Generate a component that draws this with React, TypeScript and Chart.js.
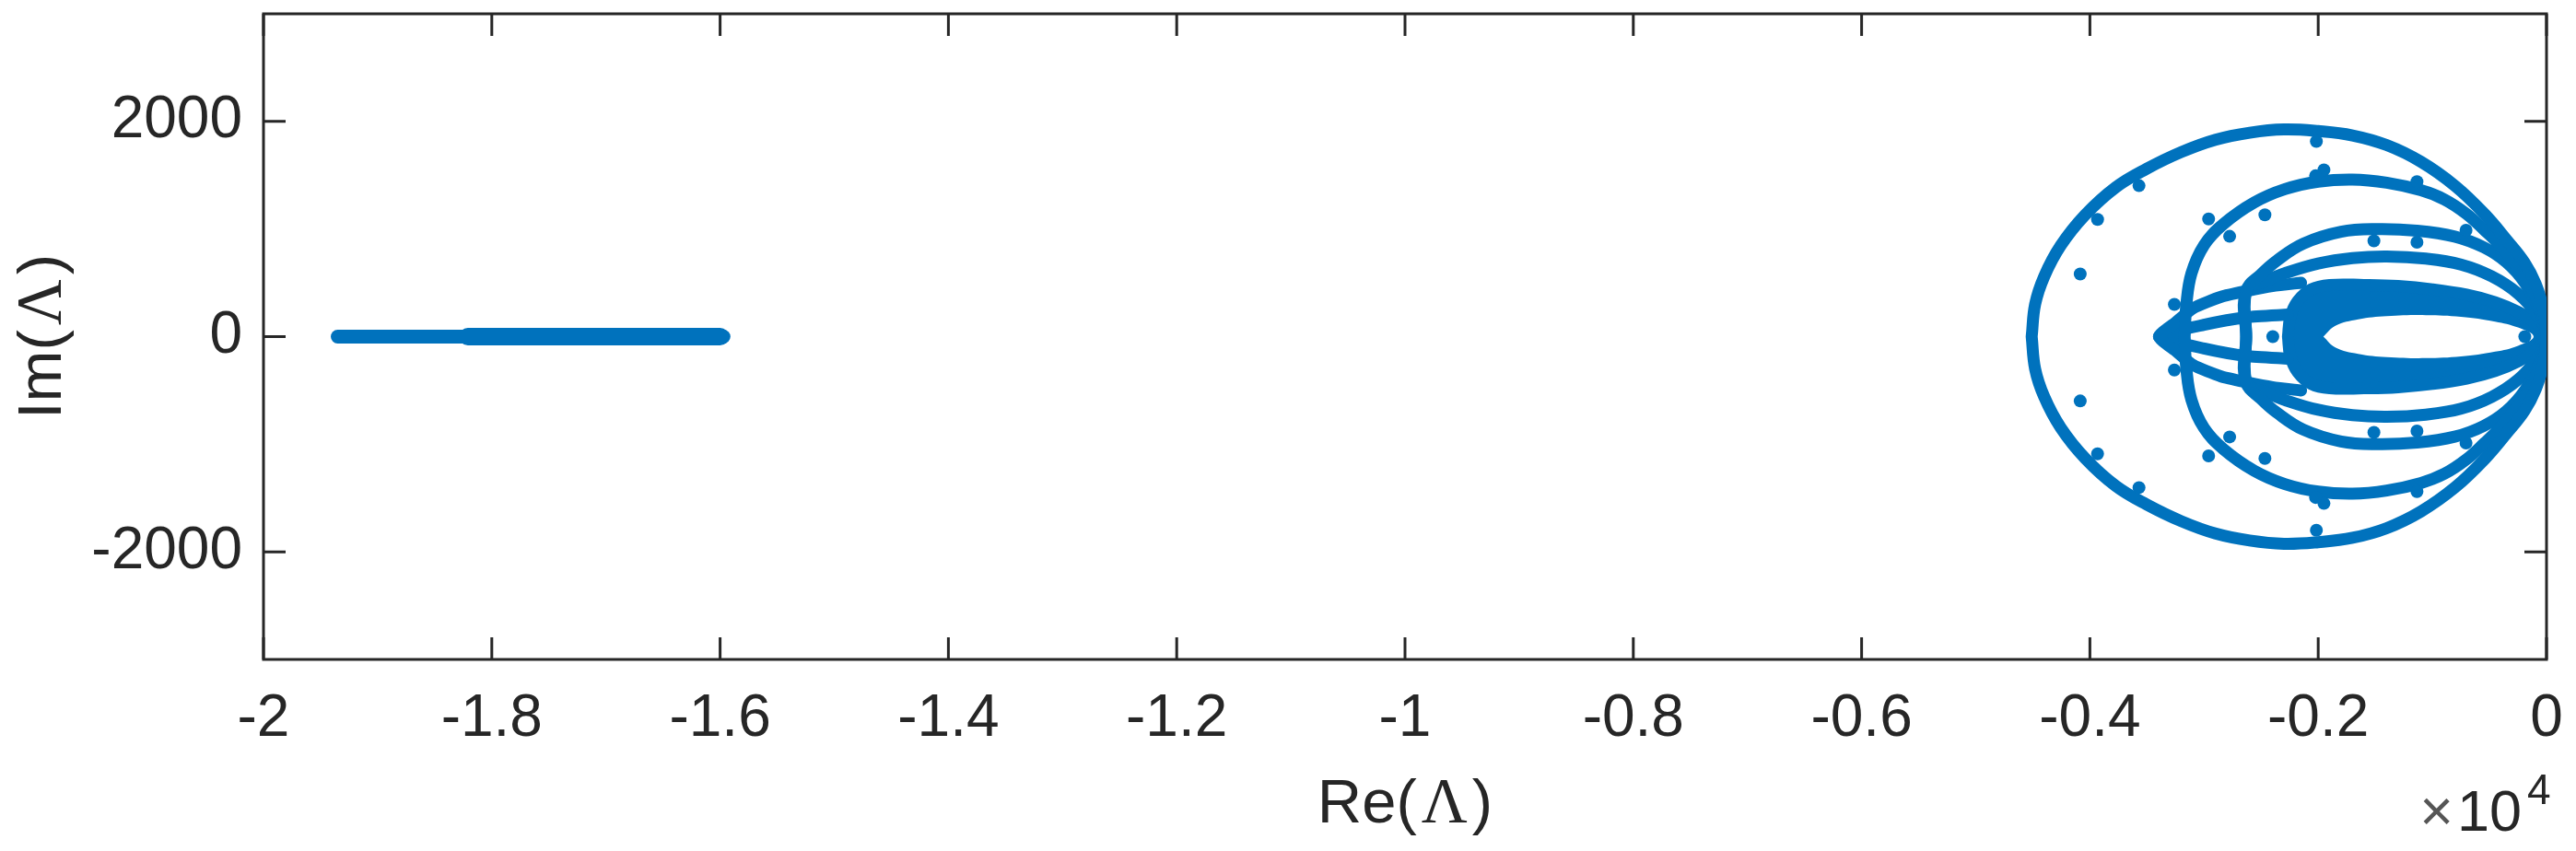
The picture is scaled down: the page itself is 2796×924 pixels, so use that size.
import React, { useEffect, useRef } from 'react';
import { Chart, registerables } from 'chart.js';

Chart.register(...registerables);

const BLUE = '#0072BD';
const AXIS = '#262626';
const SANS = '"Liberation Sans", Arial, Helvetica, sans-serif';
const SERIF = '"Liberation Serif", "DejaVu Serif", serif';

const xTickValues = [-20000, -18000, -16000, -14000, -12000, -10000, -8000, -6000, -4000, -2000, 0];
const xTickLabels = ['-2', '-1.8', '-1.6', '-1.4', '-1.2', '-1', '-0.8', '-0.6', '-0.4', '-0.2', '0'];
const yTickValues = [-2000, 0, 2000];
const yTickLabels = ['-2000', '0', '2000'];

// Real-axis cluster on the left
const realAxisLine = [[-19350, 0], [-15970, 0]];
const realAxisDense = [[-18210, 0], [-16000, 0]];

// Outer egg-shaped branch (left point -> upper -> origin -> lower -> left point)
const outerRing = [
  [-4510, 0], [-4480, 300], [-4400, 560], [-4256, 846], [-4041, 1132], [-3772, 1389], [-3503, 1560],
  [-3200, 1715], [-2900, 1830], [-2600, 1895], [-2300, 1925], [-2000, 1910], [-1700, 1870],
  [-1400, 1780], [-1100, 1625], [-800, 1400], [-543, 1140], [-350, 900], [-194, 690], [-95, 490],
  [-30, 260], [0, 0], [-30, -260], [-95, -490], [-194, -690], [-350, -900], [-543, -1140],
  [-800, -1400], [-1100, -1625], [-1400, -1780], [-1700, -1870], [-2000, -1910], [-2300, -1925],
  [-2600, -1895], [-2900, -1830], [-3200, -1715], [-3503, -1560], [-3772, -1389], [-4041, -1132],
  [-4256, -846], [-4400, -560], [-4480, -300], [-4510, 0],
];

// Second branch
const ringB = [
  [-3170, 0], [-3155, 300], [-3110, 589], [-3000, 850], [-2830, 1046], [-2561, 1246], [-2292, 1370],
  [-2000, 1440], [-1700, 1460], [-1400, 1430], [-1100, 1360], [-893, 1274], [-700, 1140], [-543, 989],
  [-410, 850], [-301, 706], [-150, 480], [-45, 240], [0, 0], [-45, -240], [-150, -480], [-301, -706],
  [-410, -850], [-543, -989], [-700, -1140], [-893, -1274], [-1100, -1360], [-1400, -1430],
  [-1700, -1460], [-2000, -1440], [-2292, -1370], [-2561, -1246], [-2830, -1046], [-3000, -850],
  [-3110, -589], [-3155, -300], [-3170, 0],
];

// Third branch (flat left side)
const ringC = [
  [-2631, 0], [-2631, 423], [-2500, 580], [-2365, 705], [-2132, 864], [-1800, 975], [-1485, 1000],
  [-1136, 985], [-804, 930], [-550, 830], [-350, 690], [-190, 500], [-70, 260], [0, 0], [-70, -260],
  [-190, -500], [-350, -690], [-550, -830], [-804, -930], [-1136, -985], [-1485, -1000],
  [-1800, -975], [-2132, -864], [-2365, -705], [-2500, -580], [-2631, -423], [-2631, 0],
];

// Fourth branch
const ringD = [
  [-2631, 0], [-2631, 423], [-2450, 520], [-2292, 589], [-2000, 680], [-1700, 730], [-1400, 745],
  [-1057, 725], [-750, 670], [-480, 560], [-250, 400], [-90, 210], [0, 0], [-90, -210], [-250, -400],
  [-480, -560], [-750, -670], [-1057, -725], [-1400, -745], [-1700, -730], [-2000, -680],
  [-2292, -589], [-2450, -520], [-2631, -423], [-2631, 0],
];

// Lines meeting at the left tip
const tipOuter = [
  [-2150, -500], [-2400, -470], [-2631, -423], [-2850, -370], [-3095, -265], [-3250, -130], [-3395, 0],
  [-3250, 130], [-3095, 265], [-2850, 370], [-2631, 423], [-2400, 470], [-2150, 500],
];
const tipInner = [
  [-2265, -205], [-2631, -180], [-3000, -110], [-3395, 0], [-3000, 110], [-2631, 180], [-2265, 205],
];

// Dense core boundary and the empty lens inside it
const coreShape = [
  [-2265, 0], [-2245, 180], [-2180, 330], [-2060, 440], [-1900, 480], [-1600, 480], [-1300, 470],
  [-1000, 440], [-700, 390], [-450, 320], [-250, 230], [-100, 130], [0, 0], [-100, -130], [-250, -230],
  [-450, -320], [-700, -390], [-1000, -440], [-1300, -470], [-1600, -480], [-1900, -480],
  [-2060, -440], [-2180, -330], [-2245, -180], [-2265, 0],
];
const holeShape = [
  [-1955, 0], [-1850, 100], [-1650, 160], [-1400, 190], [-1057, 200], [-750, 185], [-450, 140],
  [-250, 85], [-113, 0], [-250, -85], [-450, -140], [-750, -185], [-1057, -200], [-1400, -190],
  [-1650, -160], [-1850, -100], [-1955, 0],
];

// Isolated eigenvalues and off-curve points
const outlierDots = [
  [-4085, 582], [-4085, -598], [-2960, 1093], [-2960, -1109], [-2016, 1815], [-2016, -1800],
  [-1950, 1550], [-1950, -1550], [-705, 989], [-705, -989], [-2398, 0], [-190, 0], [-3260, 300],
  [-3260, -310], [-3570, 1403], [-3570, -1403], [-3933, 1089], [-3933, -1089], [-2776, 932],
  [-2776, -932], [-2467, 1132], [-2467, -1132], [-2023, 1495], [-2023, -1495], [-1135, 1440],
  [-1135, -1440], [-1512, 890], [-1512, -890], [-1135, 877], [-1135, -877],
];

const toXY = (pts: number[][]) => pts.map(([x, y]) => ({ x, y }));

function curve(pts: number[][], width: number, order: number, extra: any = {}) {
  return {
    data: toXY(pts),
    showLine: true,
    borderColor: BLUE,
    backgroundColor: BLUE,
    borderWidth: width,
    pointRadius: 0,
    pointHoverRadius: 0,
    tension: 0.4,
    borderCapStyle: 'round',
    borderJoinStyle: 'round',
    fill: false,
    order,
    ...extra,
  };
}

const TITLE_SANS = 67;
const TITLE_SERIF = 69;

const framePlugin = {
  id: 'matlabFrame',
  beforeDatasetsDraw(chart: any) {
    const { ctx, chartArea: a, scales } = chart;
    ctx.save();
    ctx.strokeStyle = AXIS;
    ctx.lineWidth = 3;
    ctx.strokeRect(a.left, a.top, a.right - a.left, a.bottom - a.top);
    ctx.beginPath();
    for (const v of xTickValues) {
      const px = scales.x.getPixelForValue(v);
      ctx.moveTo(px, a.bottom);
      ctx.lineTo(px, a.bottom - 24);
      ctx.moveTo(px, a.top);
      ctx.lineTo(px, a.top + 24);
    }
    for (const v of yTickValues) {
      const py = scales.y.getPixelForValue(v);
      ctx.moveTo(a.left, py);
      ctx.lineTo(a.left + 24, py);
      ctx.moveTo(a.right, py);
      ctx.lineTo(a.right - 24, py);
    }
    ctx.stroke();
    ctx.restore();
  },
  afterDraw(chart: any) {
    const { ctx, chartArea: a } = chart;
    ctx.save();
    ctx.fillStyle = AXIS;
    ctx.textBaseline = 'alphabetic';

    const drawLabel = (prefix: string, x: number, y: number) => {
      const sans = `${TITLE_SANS}px ${SANS}`;
      const serif = `${TITLE_SERIF}px ${SERIF}`;
      ctx.font = sans;
      const w1 = ctx.measureText(prefix + '(').width;
      const w3 = ctx.measureText(')').width;
      ctx.font = serif;
      const w2 = ctx.measureText('Λ').width;
      const gap = 5;
      const total = w1 + gap + w2 + gap + w3;
      let cx = x - total / 2;
      ctx.textAlign = 'left';
      ctx.font = sans;
      ctx.fillText(prefix + '(', cx, y);
      cx += w1 + gap;
      ctx.font = serif;
      ctx.fillText('Λ', cx, y);
      cx += w2 + gap;
      ctx.font = sans;
      ctx.fillText(')', cx, y);
    };

    drawLabel('Re', (a.left + a.right) / 2, 893);

    ctx.save();
    ctx.translate(66, (a.top + a.bottom) / 2);
    ctx.rotate(-Math.PI / 2);
    drawLabel('Im', 0, 0);
    ctx.restore();

    ctx.textAlign = 'right';
    ctx.font = `63px ${SANS}`;
    const w10 = ctx.measureText('10').width;
    ctx.fillStyle = '#555555';
    ctx.fillText('×', 2737 - w10 - 4, 902);
    ctx.fillStyle = AXIS;
    ctx.fillText('10', 2737, 902);
    ctx.textAlign = 'left';
    ctx.font = `46px ${SANS}`;
    ctx.fillText('4', 2743, 873);
    ctx.restore();
  },
};

export default function App() {
  const ref = useRef<HTMLCanvasElement>(null);

  useEffect(() => {
    document.body.style.margin = '0';
    const canvas = ref.current;
    if (!canvas) return;

    const datasets: any[] = [
      curve(coreShape, 13, 30, { fill: 'shape' }),
      curve(holeShape, 0, 25, { fill: 'shape', backgroundColor: '#ffffff', borderColor: '#ffffff' }),
      curve(outerRing, 13, 10),
      curve(ringB, 13, 10),
      curve(ringC, 13, 10),
      curve(ringD, 13, 10),
      curve(tipOuter, 13, 10, { tension: 0.2 }),
      curve(tipInner, 13, 10, { tension: 0.2 }),
      curve(realAxisLine, 15, 10, { tension: 0 }),
      curve(realAxisDense, 19, 10, { tension: 0 }),
      {
        data: toXY(outlierDots),
        showLine: false,
        pointRadius: 7,
        pointHoverRadius: 7,
        pointBorderWidth: 0,
        pointBackgroundColor: BLUE,
        backgroundColor: BLUE,
        borderColor: BLUE,
        order: 1,
      },
    ];

    const chart = new Chart(canvas, {
      type: 'scatter',
      data: { datasets },
      options: {
        responsive: false,
        animation: false,
        devicePixelRatio: 1,
        events: [],
        layout: { padding: { left: 0, right: 32, top: 15, bottom: 0 } },
        plugins: {
          legend: { display: false },
          tooltip: { enabled: false },
        },
        scales: {
          x: {
            type: 'linear',
            min: -20000,
            max: 0,
            afterBuildTicks: (s: any) => {
              s.ticks = xTickValues.map((v) => ({ value: v }));
            },
            afterFit: (s: any) => {
              s.height = 208;
              s.paddingLeft = 0;
              s.paddingRight = 0;
            },
            grid: { display: false, drawTicks: false },
            border: { display: false },
            ticks: {
              autoSkip: false,
              maxRotation: 0,
              padding: 27,
              color: AXIS,
              font: { family: SANS, size: 64 },
              callback: (_v: any, i: number) => xTickLabels[i],
            },
          },
          y: {
            type: 'linear',
            min: -3000,
            max: 3000,
            afterBuildTicks: (s: any) => {
              s.ticks = yTickValues.map((v) => ({ value: v }));
            },
            afterFit: (s: any) => {
              s.width = 286;
              s.paddingTop = 0;
              s.paddingBottom = 0;
            },
            grid: { display: false, drawTicks: false },
            border: { display: false },
            ticks: {
              padding: 23,
              color: AXIS,
              font: { family: SANS, size: 64 },
              callback: (_v: any, i: number) => yTickLabels[i],
            },
          },
        },
      } as any,
      plugins: [framePlugin],
    });

    return () => chart.destroy();
  }, []);

  return (
    <canvas
      ref={ref}
      width={2796}
      height={924}
      style={{ display: 'block', width: '2796px', height: '924px' }}
    />
  );
}
